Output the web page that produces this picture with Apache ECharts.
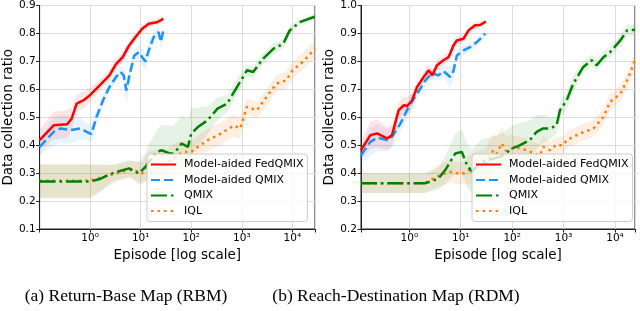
<!DOCTYPE html>
<html><head><meta charset="utf-8">
<script src="https://cdn.jsdelivr.net/npm/echarts@6/dist/echarts.min.js"></script>
<style>html,body{margin:0;padding:0;background:#fff}#c{width:640px;height:311px}</style>
</head><body><div id="c"></div>
<script>
// ---------- data ----------
const methodNames = ['Model-aided FedQMIX', 'Model-aided QMIX', 'QMIX', 'IQL'];
const xTickLabels = ['10\u2070', '10\u00b9', '10\u00b2', '10\u00b3', '10\u2074'];
const captions = ['(a) Return-Base Map (RBM)', '(b) Reach-Destination Map (RDM)'];

// (a) RBM
const rbmFedX = [0.1,0.19,0.35,0.43,0.54,0.73,0.99,1.54,2.4,3.24,4.4,5.9,7.9,10.7,14.4,20.9,28];
const rbmFedY = [0.418,0.471,0.475,0.495,0.549,0.56,0.579,0.614,0.65,0.69,0.715,0.757,0.787,0.817,0.835,0.84,0.852];
const rbmFedS = [0.04,0.05,0.05,0.04,0.03,0.03,0.025,0.02,0.02,0.02,0.02,0.015,0.015,0.015,0.012,0.012,0.012];

const rbmMaqX = [0.1,0.19,0.26,0.4,0.63,0.85,1.06,1.33,1.79,2.4,3.24,4.0,4.6,5.2,5.9,7.4,9.2,10.7,12.4,14.4,18,22.5,25,28];
const rbmMaqY = [0.394,0.448,0.46,0.454,0.46,0.448,0.44,0.50,0.56,0.608,0.644,0.662,0.65,0.596,0.644,0.72,0.733,0.715,0.70,0.739,0.787,0.805,0.77,0.81];
const rbmMaqS = [0.03,0.05,0.05,0.05,0.04,0.03,0.03,0.03,0.02,0.02,0.02,0.02,0.03,0.05,0.03,0.02,0.03,0.03,0.03,0.03,0.02,0.02,0.03,0.02];

const rbmQmixX = [0.1,0.3,1,1.5,2.8,5.9,9.2,12.4,14.4,21,26,38,44,55,64,86,100,135,210,330,515,800,1260,1680,2650,4200,6600,8800,13800,28000];
const rbmQmixY = [0.27,0.27,0.27,0.278,0.30,0.317,0.299,0.322,0.34,0.376,0.382,0.37,0.37,0.388,0.406,0.394,0.442,0.465,0.489,0.531,0.549,0.608,0.668,0.662,0.71,0.745,0.763,0.81,0.84,0.86];
const rbmQmixS = [0.06,0.06,0.06,0.05,0.03,0.03,0.04,0.05,0.06,0.08,0.09,0.1,0.1,0.1,0.1,0.1,0.09,0.07,0.05,0.04,0.03,0.03,0.02,0.02,0.02,0.02,0.015,0.015,0.01,0.01];

const rbmIqlX = [0.1,0.3,1,1.5,3.3,4.4,6.8,10.7,14.4,22.5,30,47,69,100,135,210,330,690,930,1260,1980,3080,4800,7500,10100,15700,28000];
const rbmIqlY = [0.273,0.273,0.273,0.283,0.299,0.305,0.313,0.299,0.329,0.335,0.33,0.358,0.376,0.376,0.394,0.418,0.435,0.47,0.46,0.537,0.525,0.573,0.62,0.632,0.668,0.697,0.745];
const rbmIqlS = [0.06,0.06,0.06,0.05,0.03,0.03,0.03,0.04,0.05,0.05,0.05,0.05,0.04,0.04,0.04,0.04,0.04,0.04,0.04,0.03,0.03,0.03,0.03,0.03,0.03,0.03,0.03];

// (b) RDM
const rdmFedX = [0.115,0.175,0.236,0.37,0.46,0.62,0.78,0.9,1.13,1.41,1.9,2.37,2.8,3.45,4.6,5.8,7.2,8.4,11.3,14.2,19,23.9,30.7];
const rdmFedY = [0.482,0.536,0.542,0.524,0.536,0.625,0.643,0.64,0.66,0.708,0.744,0.768,0.75,0.786,0.804,0.815,0.857,0.875,0.881,0.911,0.929,0.93,0.943];
const rdmFedS = [0.03,0.05,0.05,0.04,0.04,0.03,0.03,0.03,0.03,0.02,0.02,0.02,0.02,0.02,0.02,0.015,0.015,0.015,0.015,0.012,0.012,0.012,0.01];

const rdmMaqX = [0.115,0.175,0.236,0.37,0.46,0.67,0.97,1.41,2.05,2.75,3.7,4.6,6.25,7.2,8.4,11.3,15.2,20.6,25.8,30];
const rdmMaqY = [0.464,0.512,0.527,0.518,0.53,0.577,0.637,0.684,0.732,0.758,0.75,0.765,0.744,0.765,0.821,0.839,0.851,0.869,0.887,0.899];
const rdmMaqS = [0.03,0.05,0.05,0.04,0.04,0.03,0.03,0.02,0.02,0.02,0.02,0.02,0.04,0.03,0.02,0.02,0.015,0.015,0.015,0.01];

const rdmQmixX = [0.115,0.5,1,2,2.56,3.7,5,7.8,10.5,13.2,16.5,25,40,60,80,99,143,220,300,400,545,730,850,1150,1540,2420,3500,4400,5950,8000,12700,17200,24450];
const rdmQmixY = [0.364,0.364,0.364,0.364,0.369,0.381,0.411,0.47,0.476,0.429,0.405,0.44,0.45,0.46,0.475,0.488,0.5,0.518,0.548,0.56,0.56,0.571,0.625,0.661,0.72,0.78,0.804,0.786,0.815,0.833,0.875,0.911,0.913];
const rdmQmixS = [0.035,0.035,0.035,0.035,0.035,0.04,0.05,0.07,0.08,0.08,0.08,0.08,0.08,0.08,0.08,0.08,0.08,0.07,0.06,0.05,0.04,0.03,0.03,0.03,0.03,0.02,0.02,0.02,0.02,0.02,0.02,0.02,0.02];

const rdmIqlX = [0.115,0.5,1,2,2.56,4,6.25,8,11.3,14,20,30,43,50,63,75,91,130,190,270,350,400,545,700,980,1150,2100,3800,5950,8000,12700,17200,24450];
const rdmIqlY = [0.364,0.364,0.364,0.364,0.375,0.393,0.405,0.40,0.399,0.41,0.42,0.428,0.482,0.47,0.506,0.48,0.488,0.49,0.482,0.47,0.464,0.494,0.482,0.5,0.5,0.518,0.542,0.56,0.601,0.655,0.684,0.732,0.804];
const rdmIqlS = [0.035,0.035,0.035,0.035,0.035,0.04,0.04,0.04,0.04,0.05,0.06,0.06,0.06,0.06,0.06,0.05,0.05,0.04,0.04,0.04,0.04,0.04,0.03,0.03,0.03,0.03,0.03,0.03,0.03,0.03,0.03,0.03,0.03];

const panelYMin = [0.1, 0.2];
const panelYMax = [0.9, 1.0];
const panelXMin = [0.1, 0.115];
const panelXMax = [28000, 24450];

// ---------- styles ----------
const FONT = 'DejaVu Sans';
const colors = ['#ff0000', '#1e90ff', '#008000', '#ff7f0e'];
const LW = 2.5;
const dashes = ['solid', [9, 4], [16, 4, 2.5, 4], [2.5, 4]];
const bandOpacity = [0.1, 0.1, 0.1, 0.12];

const panels = [
  [[rbmFedX, rbmFedY, rbmFedS], [rbmMaqX, rbmMaqY, rbmMaqS], [rbmQmixX, rbmQmixY, rbmQmixS], [rbmIqlX, rbmIqlY, rbmIqlS]],
  [[rdmFedX, rdmFedY, rdmFedS], [rdmMaqX, rdmMaqY, rdmMaqS], [rdmQmixX, rdmQmixY, rdmQmixS], [rdmIqlX, rdmIqlY, rdmIqlS]]
];

function hexA(h, a) {
  const r = parseInt(h.slice(1,3),16), g = parseInt(h.slice(3,5),16), b = parseInt(h.slice(5,7),16);
  return 'rgba(' + r + ',' + g + ',' + b + ',' + a + ')';
}

const grids = [
  {left: 36, top: 5, width: 279, height: 224},
  {left: 361, top: 5, width: 274, height: 224}
];

const xAxes = [], yAxes = [], series = [];
grids.forEach((g, p) => {
  g.show = true; g.borderColor = '#222'; g.borderWidth = 1; g.containLabel = false;
  xAxes.push({
    type: 'log', logBase: 10, gridIndex: p, min: panelXMin[p], max: panelXMax[p],
    name: 'Episode [log scale]', nameLocation: 'middle', nameGap: 13,
    nameTextStyle: {fontFamily: FONT, fontSize: 13.5, color: '#000'},
    axisLine: {show: true, lineStyle: {color: '#222', width: 1}},
    axisTick: {show: true, length: 3.5, lineStyle: {color: '#222'}},
    axisLabel: {fontFamily: FONT, fontSize: 10.5, color: '#000', margin: 4,
      formatter: v => { const e = Math.log10(v); const r = Math.round(e);
        if (Math.abs(e - r) > 1e-6 || r < 0 || r >= xTickLabels.length) return ''; return xTickLabels[r]; }},
    splitLine: {show: true, lineStyle: {color: '#dcdcdc', width: 1}}
  });
  yAxes.push({
    type: 'value', gridIndex: p, min: panelYMin[p], max: panelYMax[p], interval: 0.1,
    name: 'Data collection ratio', nameLocation: 'middle', nameGap: 20,
    nameTextStyle: {fontFamily: FONT, fontSize: 13.5, color: '#000'},
    axisLine: {show: true, lineStyle: {color: '#222', width: 1}},
    axisTick: {show: true, length: 3.5, lineStyle: {color: '#222'}},
    axisLabel: {fontFamily: FONT, fontSize: 10.5, color: '#000', margin: 4, formatter: v => v.toFixed(1)},
    splitLine: {show: true, lineStyle: {color: '#dcdcdc', width: 1}}
  });
  const order = [3, 2, 1, 0];
  // shaded bands drawn through the axes' scales (api.coord)
  order.forEach(m => {
    const [xs, ys, ss] = panels[p][m];
    const fill = hexA(colors[m], bandOpacity[m]);
    series.push({
      type: 'custom', name: 'band' + p + m, xAxisIndex: p, yAxisIndex: p, silent: true, clip: true,
      data: [[panelXMin[p], panelYMin[p]]], encode: {x: 0, y: 1}, z: 1,
      renderItem: (params, api) => {
        const up = xs.map((x, i) => api.coord([x, ys[i] + ss[i]]));
        const lo = xs.map((x, i) => api.coord([x, ys[i] - ss[i]])).reverse();
        return {type: 'polygon', shape: {points: up.concat(lo)}, style: {fill: fill}, silent: true};
      }
    });
  });
  order.forEach(m => {
    const [xs, ys] = panels[p][m];
    series.push({
      type: 'line', name: methodNames[m], xAxisIndex: p, yAxisIndex: p,
      data: xs.map((x, i) => [x, ys[i]]), symbol: 'none',
      lineStyle: {color: colors[m], width: LW, type: dashes[m], cap: 'butt'},
      itemStyle: {color: colors[m]}, z: 3
    });
  });
});

const legendBase = {
  orient: 'vertical', top: 154, itemWidth: 25, itemHeight: 12, itemGap: 4.5,
  padding: [5, 4, 5, 3], backgroundColor: 'rgba(255,255,255,0.8)', borderColor: '#cccccc',
  borderWidth: 1, borderRadius: 3, data: methodNames, selectedMode: false,
  itemStyle: {opacity: 0},
  textStyle: {fontFamily: FONT, fontSize: 11, color: '#000', padding: [0, 0, 0, 3]}
};

const option = {
  animation: false,
  backgroundColor: '#fff',
  grid: grids,
  xAxis: xAxes,
  yAxis: yAxes,
  legend: [Object.assign({}, legendBase, {left: 147}), Object.assign({}, legendBase, {left: 472})],
  series: series,
  graphic: [
    {type: 'text', x: 126, y: 296, style: {text: captions[0], font: '17.5px "Liberation Serif"', align: 'center', verticalAlign: 'middle', textAlign: 'center', textVerticalAlign: 'middle', fill: '#000'}},
    {type: 'text', x: 396, y: 296, style: {text: captions[1], font: '17.5px "Liberation Serif"', align: 'center', verticalAlign: 'middle', textAlign: 'center', textVerticalAlign: 'middle', fill: '#000'}}
  ]
};
const chart = echarts.init(document.getElementById('c'), null, {renderer: 'canvas'});
chart.setOption(option);
</script></body></html>
